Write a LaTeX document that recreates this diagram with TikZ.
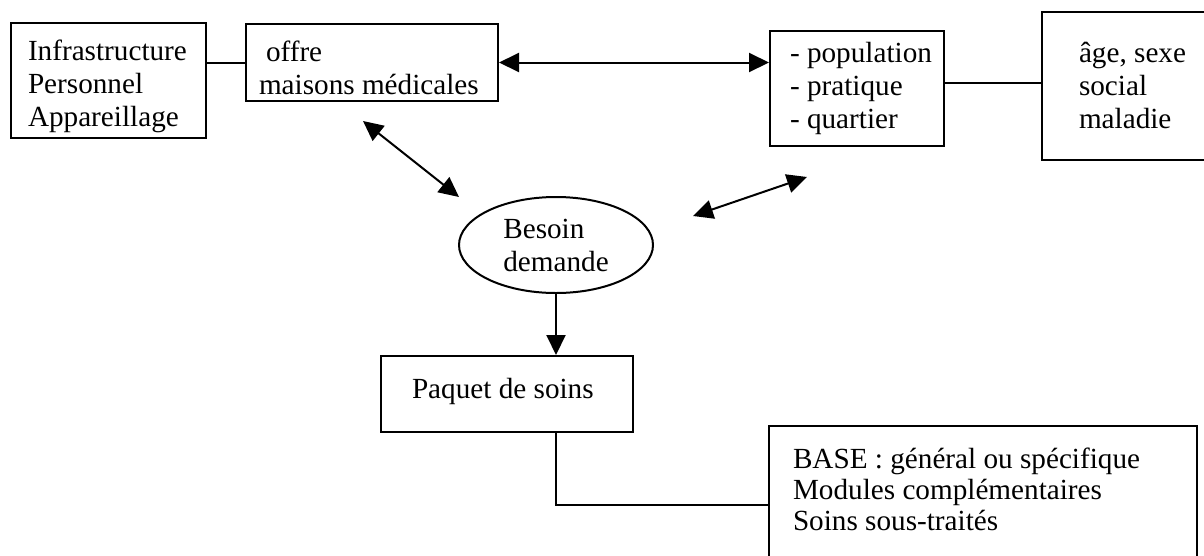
\documentclass[tikz,border=0pt]{standalone}
\usepackage{fontspec}
\setmainfont{Liberation Serif}
\usetikzlibrary{arrows.meta,shapes.geometric}

\begin{document}
\begin{tikzpicture}[x=1pt,y=-1pt,
	texte/.style={font=\fontsize{29.2pt}{33pt}\selectfont},
	boite/.style={draw, rectangle, line width=2pt, inner ysep=0pt, align=flush left, text height=20pt, texte},
	trait/.style={line width=2pt},
	fleche/.style={line width=2pt, -{Triangle[length=20pt,width=19pt]}},
	flechedouble/.style={line width=2pt, {Triangle[length=20pt,width=19pt]}-{Triangle[length=20pt,width=19pt]}}]
		\useasboundingbox (0,0) rectangle (1204,555);

		\draw (108.5,80.5) node [boite, text width=161pt, inner xsep=17pt, minimum height=115pt, text depth=61pt] (infra) {\mbox{Infrastructure}\\Personnel\\Appareillage};
		\draw (372,62.5) node [boite, text width=226pt, inner xsep=13pt, minimum height=77pt, text depth=23pt] (offre) {\hspace*{7pt}offre\\maisons médicales};
		\draw (857,88.5) node [boite, text width=134pt, inner xsep=20pt, minimum height=115pt, text depth=73pt] (popu) {\mbox{- population}\\- pratique\\- quartier};
		% la boite de droite sort de l'image
		\draw (1142,86) node [boite, text width=126pt, inner xsep=37pt, minimum height=148pt, text depth=68pt] (age) {âge, sexe\\social\\maladie};
		\draw (556,245) node [ellipse, draw, line width=2pt, minimum width=194pt, minimum height=96pt, inner sep=0pt, align=left, texte] (besoin) {Besoin\\demande};
		\draw (507,394) node [boite, text width=190pt, inner xsep=31pt, minimum height=76pt, text depth=12pt] (paquet) {Paquet de soins};
		\draw (983,513) node [boite, text width=380pt, inner xsep=24pt, minimum height=174pt, text depth=110pt, font=\fontsize{29.2pt}{31pt}\selectfont] (base) {BASE : général ou spécifique\\Modules complémentaires\\Soins sous-traités};

		\coordinate (h1) at (363,121);
		\coordinate (h2) at (459,197);
		\coordinate (h3) at (693,216);
		\coordinate (h4) at (807,177);

		\draw
			(infra.east |- offre.west) edge [trait] (offre.west)
			(offre.east) edge [flechedouble] (offre.east -| popu.west)
			([yshift=5.5pt]popu.east) edge [trait] ([yshift=5.5pt]popu.east -| age.west)
			(h1) edge [flechedouble] (h2)
			(h3) edge [flechedouble] (h4)
			(besoin.south) edge [fleche] (besoin.south |- paquet.north)
		;
		\draw [trait] (besoin.south |- paquet.south) |- ([yshift=8pt]base.west);
	\end{tikzpicture}
\end{document}
